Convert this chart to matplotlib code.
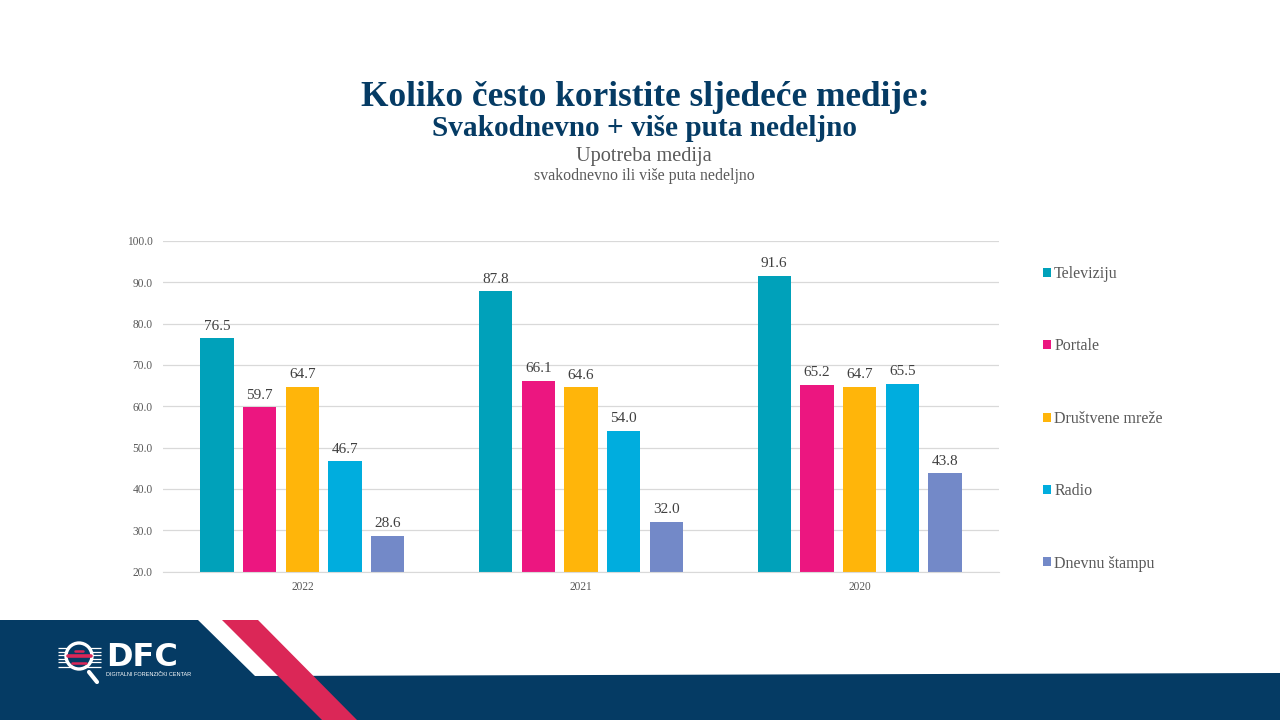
import numpy as np
import matplotlib
matplotlib.use("Agg")
import matplotlib.pyplot as plt
from matplotlib.patches import Polygon, Circle

plt.rcParams['font.family'] = ['Liberation Serif', 'DejaVu Serif']

years = ['2022', '2021', '2020']
televiziju = [76.5, 87.8, 91.6]
portale = [59.7, 66.1, 65.2]
drustvene = [64.7, 64.6, 64.7]
radio = [46.7, 54.0, 65.5]
stampa = [28.6, 32.0, 43.8]
series_names = ['Televiziju', 'Portale', 'Društvene mreže', 'Radio', 'Dnevnu štampu']
y_ticks = [20, 30, 40, 50, 60, 70, 80, 90, 100]

colors = ['#00A1BA', '#EC1680', '#FFB50A', '#00ADDE', '#7389C8']
NAVY = '#053B64'
RED = '#DB2757'
W, H = 1280, 720

fig = plt.figure(figsize=(12.8, 7.2), dpi=100, facecolor='white')

# pixel overlay for the slide furniture
bg = fig.add_axes([0, 0, 1, 1], zorder=0)
bg.set_xlim(0, W)
bg.set_ylim(H, 0)
bg.axis('off')

bg.add_patch(Polygon([(0, 620), (198, 620), (255, 676), (1280, 673), (1280, 720), (0, 720)],
                     closed=True, fc=NAVY, ec='none'))
bg.add_patch(Polygon([(222, 620), (258, 620), (357, 720), (322, 720)],
                     closed=True, fc=RED, ec='none'))

# logo
for y0 in [648, 651.5, 655, 658.5, 662, 667]:
    bg.plot([58, 101], [y0, y0], color='white', lw=0.9, solid_capstyle='butt')
bg.add_patch(Circle((79, 656), 13, fc=NAVY, ec='white', lw=2.4, zorder=3))
for y0, x0, x1 in [(650.5, 75, 83), (656, 67.5, 91), (662.5, 72, 86)]:
    bg.plot([x0, x1], [y0, y0], color=RED, lw=2.6 if y0 == 656 else 1.8,
            solid_capstyle='round', zorder=4)
bg.plot([89, 97], [672, 682], color='white', lw=3, solid_capstyle='round', zorder=3)
bg.text(106, 658, 'DFC', color='white', fontsize=23, fontweight='bold',
        family=['DejaVu Sans'], ha='left', va='center')
bg.text(106, 674.5, 'DIGITALNI FORENZIČKI CENTAR', color='white', fontsize=4.0,
        family=['Liberation Sans'], ha='left', va='center')

# titles
bg.text(645, 97, 'Koliko često koristite sljedeće medije:', color=NAVY, fontsize=25.4,
        fontweight='bold', ha='center', va='center')
bg.text(644, 129, 'Svakodnevno + više puta nedeljno', color=NAVY, fontsize=21.1,
        fontweight='bold', ha='center', va='center')
bg.text(644, 157, 'Upotreba medija', color='#595959', fontsize=14.6, ha='center', va='center')
bg.text(644, 176, 'svakodnevno ili više puta nedeljno', color='#595959', fontsize=11.4,
        ha='center', va='center')

# chart
left, right, top, bottom = 163, 999, 241, 571.5
ax = fig.add_axes([left / W, 1 - bottom / H, (right - left) / W, (bottom - top) / H], zorder=1)
ax.patch.set_alpha(0)

x = np.arange(len(years))
step = 0.1532
width = 0.12
all_series = [televiziju, portale, drustvene, radio, stampa]
for i, (name, vals) in enumerate(zip(series_names, all_series)):
    bars = ax.bar(x + (i - 2) * step, vals, width, color=colors[i], label=name, zorder=2)
    ax.bar_label(bars, labels=[f'{v:.1f}' for v in vals], padding=4,
                 fontsize=11, color='#404040')

ax.set_xlim(-0.5, 2.5)
ax.set_ylim(20, 100)
ax.set_xticks(x, years)
ax.set_yticks(y_ticks, [f'{v:.1f}' for v in y_ticks])
ax.tick_params(axis='both', length=0, labelsize=8.3, labelcolor='#595959')
ax.tick_params(axis='x', pad=7)
ax.tick_params(axis='y', pad=7.5)
ax.grid(axis='y', color='#D9D9D9', lw=0.9)
ax.set_axisbelow(True)
for side in ['top', 'right', 'left']:
    ax.spines[side].set_visible(False)
ax.spines['bottom'].set_color('#D9D9D9')

fig.legend(loc='upper left', bbox_to_anchor=(1043 / W, 1 - 266 / H), frameon=False,
           fontsize=11.5, labelcolor='#595959', handlelength=0.5, handleheight=0.5,
           handletextpad=0.2, labelspacing=3.53, borderpad=0, borderaxespad=0)

fig.savefig('out.png', dpi=100)
